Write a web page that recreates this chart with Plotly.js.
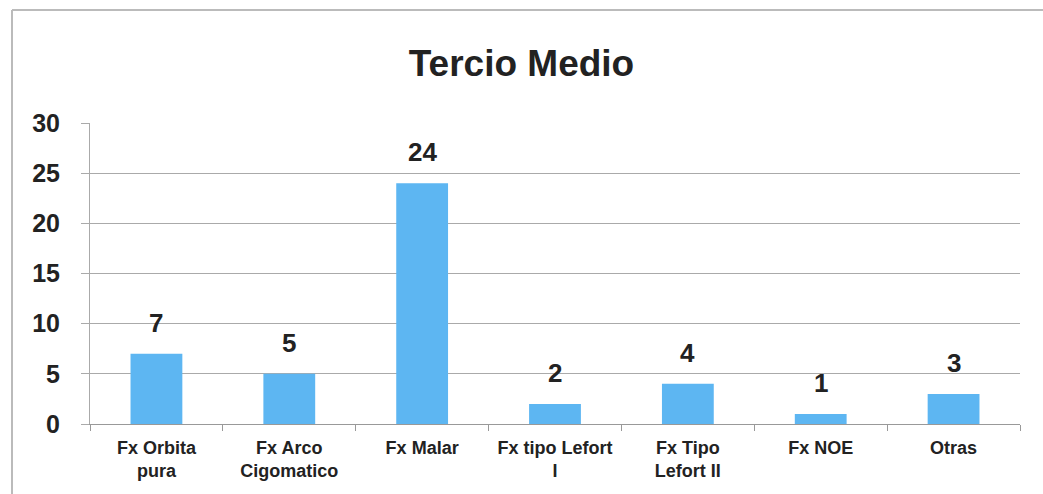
<!DOCTYPE html>
<html><head><meta charset="utf-8">
<script src="https://cdn.plot.ly/plotly-3.0.1.min.js"></script>
<style>html,body{margin:0;padding:0;background:#fff}#c{width:1043px;height:494px}</style>
</head><body><div id="c"></div>
<script>
const categories = ["Fx Orbita<br>pura","Fx Arco<br>Cigomatico","Fx Malar","Fx tipo Lefort<br>I","Fx Tipo<br>Lefort II","Fx NOE","Otras"];
const values = [7,5,24,2,4,1,3];
const yTicks = [0,5,10,15,20,25,30];

const W = 1043, H = 494, L = 90, R = 23, T = 123, B = 70;
const pw = W - L - R, ph = H - T - B;
const px = x => (x - L) / pw, py = y => (H - B - y) / ph;
const FONT = 'Liberation Sans, Arial, sans-serif';

Plotly.newPlot('c', [{
  type: 'bar', x: categories, y: values,
  marker: {color: '#5DB6F2'},
  width: 0.39,
  cliponaxis: false
}], {
  width: W, height: H,
  margin: {l: L, r: R, t: T, b: B},
  paper_bgcolor: '#fff', plot_bgcolor: '#fff',
  title: {text: '<b>Tercio Medio</b>', x: 0.5, xanchor: 'center', y: 1 - 63/H, yanchor: 'middle',
    font: {family: FONT, size: 37, color: '#222'}},
  showlegend: false,
  bargap: 0.61,
  xaxis: {
    type: 'category', showgrid: false, showline: true, linecolor: '#999', linewidth: 1,
    ticks: 'outside', tickson: 'boundaries', ticklen: 6, tickcolor: '#999',
    ticklabelstandoff: 7,
    tickfont: {family: FONT, size: 18, color: '#222', weight: 'bold'}
  },
  yaxis: {
    range: [0, 30], tickvals: yTicks, ticktext: yTicks.map(String),
    showgrid: true, gridcolor: '#aaa', gridwidth: 1,
    showline: true, linecolor: '#aaa', ticks: 'outside', ticklen: 8, tickcolor: '#aaa',
    ticklabelstandoff: 16, zeroline: false,
    tickfont: {family: FONT, size: 25, color: '#222', weight: 'bold'}
  },
  annotations: categories.map((c, i) => ({
    x: c, y: values[i], xref: 'x', yref: 'y', text: '<b>' + values[i] + '</b>',
    showarrow: false, yanchor: 'middle', yshift: 31,
    font: {family: FONT, size: 26, color: '#222'}
  })),
  shapes: [
    {type: 'line', xref: 'paper', yref: 'paper', x0: px(12), x1: px(12), y0: py(494), y1: py(10),
      line: {color: '#bbb', width: 2}, layer: 'below'},
    {type: 'line', xref: 'paper', yref: 'paper', x0: px(12), x1: px(1043), y0: py(10), y1: py(10),
      line: {color: '#bbb', width: 2}, layer: 'below'}
  ]
}, {displayModeBar: false, staticPlot: true});
</script></body></html>
